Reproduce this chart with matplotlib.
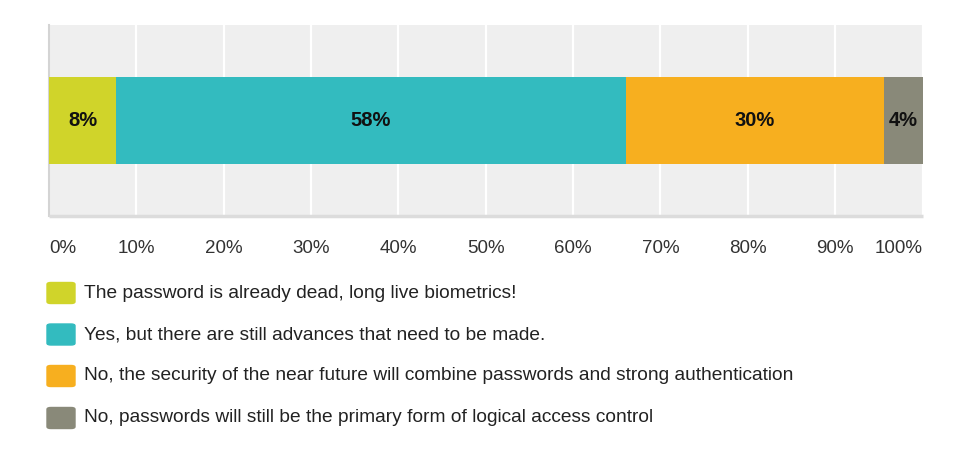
import numpy as np
import matplotlib.pyplot as plt
from matplotlib.patches import FancyBboxPatch

plt.rcParams['font.family'] = ['Liberation Sans', 'DejaVu Sans']

# data
answers = ["The password is already dead, long live biometrics!",
           "Yes, but there are still advances that need to be made.",
           "No, the security of the near future will combine passwords and strong authentication",
           "No, passwords will still be the primary form of logical access control"]
shares = [7.7, 58.3, 29.6, 4.4]
labels = ["8%", "58%", "30%", "4%"]
colors = ["#d0d42a", "#33bbbf", "#f7af1f", "#898979"]
ticks = [0, 10, 20, 30, 40, 50, 60, 70, 80, 90, 100]

W, H = 969, 451
fig = plt.figure(figsize=(W / 100, H / 100), dpi=100)
ax = fig.add_axes([49 / W, (H - 216) / H, 873.5 / W, 191 / H])
ax.set_facecolor("#efefef")

left = 0
for s, lab, c in zip(shares, labels, colors):
    ax.barh(0, s, left=left, height=0.46, color=c, edgecolor="none", zorder=3)
    ax.text(left + s / 2, 0, lab, ha="center", va="center",
            fontsize=14.5, fontweight="bold", color="#111111", zorder=4)
    left += s

ax.set_xlim(0, 100)
ax.set_ylim(-0.5, 0.5)
ax.set_yticks([])
ax.set_xticks(ticks)
ax.set_xticklabels([f"{t}%" for t in ticks], fontsize=13.5, color="#333333")
tl = ax.get_xticklabels()
tl[0].set_ha("left")
tl[-1].set_ha("right")
ax.tick_params(axis="x", length=0, pad=17)
ax.grid(axis="x", color="white", lw=1.6, zorder=1)
for sp in ["top", "right"]:
    ax.spines[sp].set_visible(False)
ax.spines["left"].set_color("#d4d4d4")
ax.spines["left"].set_linewidth(1.5)
ax.spines["bottom"].set_color("#dcdcdc")
ax.spines["bottom"].set_linewidth(2.5)
ax.spines["bottom"].set_capstyle("butt")

# legend drawn by hand
ys = [293, 334.5, 376, 418]
for y, txt, c in zip(ys, answers, colors):
    fig.patches.append(FancyBboxPatch((47 / W, (H - y - 10.5) / H), 28 / W, 21 / H,
                                      boxstyle="round,pad=0,rounding_size=0.004",
                                      transform=fig.transFigure, color=c))
    fig.text(84 / W, (H - y) / H, txt, ha="left", va="center",
             fontsize=13.8, color="#222222")

fig.savefig("out.png", dpi=100)
